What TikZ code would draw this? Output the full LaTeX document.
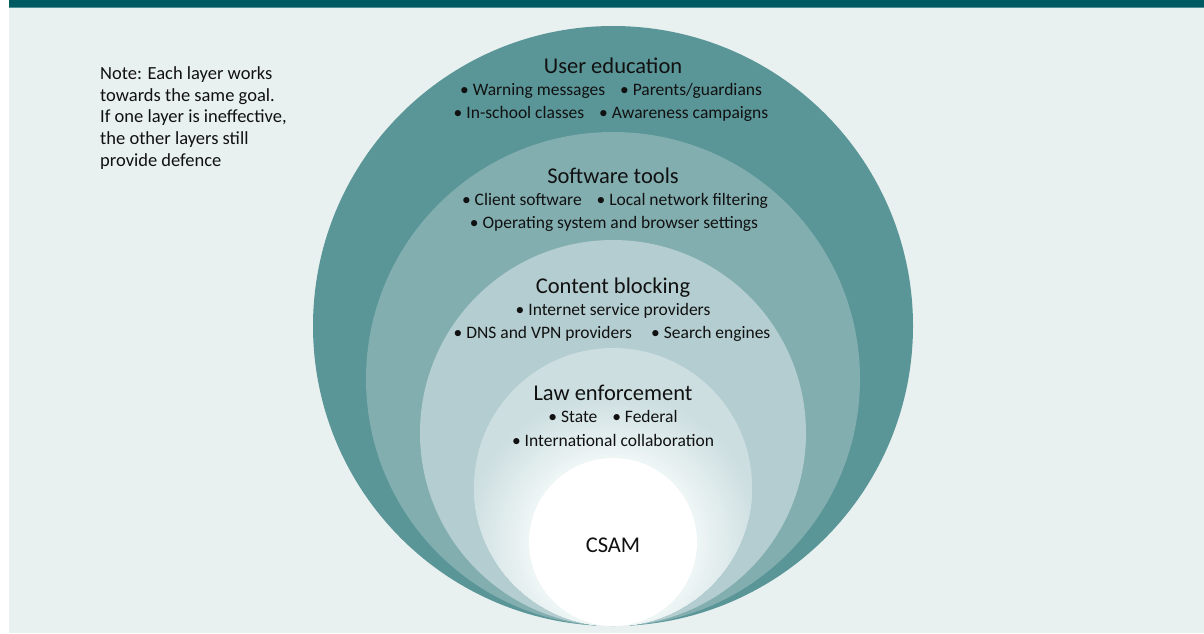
\documentclass[tikz,border=0pt]{standalone}
\usepackage{fontspec}
\setmainfont{Carlito}
\definecolor{barcol}{HTML}{005A62}
\definecolor{barline}{HTML}{4F8E94}
\definecolor{bgcol}{HTML}{E8F1F0}
\definecolor{ringA}{HTML}{5A9597}
\definecolor{ringB}{HTML}{82AEB0}
\definecolor{ringC}{HTML}{B4CDD0}
\definecolor{ringD}{HTML}{CCDEE0}
\definecolor{glowin}{HTML}{EEF5F5}
\definecolor{txt}{HTML}{111111}
\newcommand{\bsep}{\hspace{0.85em}}
\tikzset{
  ring/.style={circle, inner sep=0pt, draw=none},
  head/.style={font=\fontsize{22.5}{26}\selectfont, text=txt, inner sep=0pt, anchor=base},
  bul/.style={font=\fontsize{17.5}{21}\selectfont, text=txt, inner sep=0pt, anchor=base},
  note/.style={font=\fontsize{18.5}{21.7}\selectfont, text=txt, inner sep=0pt, align=left, anchor=north west}
}
\begin{document}
\begin{tikzpicture}[x=1pt,y=-1pt]
\useasboundingbox (0,0) rectangle (1204,633);
\fill[white] (0,0) rectangle (1204,633);
\fill[bgcol] (9,8) rectangle (1204,633);
\fill[barcol] (9,0) rectangle (1204,7);
\fill[barline] (9,7) rectangle (1204,8);
% rings
\node[ring, fill=ringA, minimum size=600pt] (c1) at (613,326) {};
\node[ring, fill=ringB, minimum size=494pt] (c2) at (613,379) {};
\node[ring, fill=ringC, minimum size=386pt] (c3) at (613,433) {};
\node[ring, fill=ringD, minimum size=278pt] (c4) at (613,487) {};
\begin{scope}
  \clip (613,487) circle (139pt);
  \foreach \i in {0,...,40} {
    \pgfmathsetmacro{\rr}{150-\i*1.6}
    \pgfmathsetmacro{\pp}{100-\i*2.5}
    \fill[ringD!\pp!glowin] (613,542) circle (\rr pt);
  }
\end{scope}
\node[ring, fill=white, minimum size=168pt] (c5) at (613,542) {};
% texts
\node[head] (ueh) at (613,73.3) {User education};
\node[bul] (ue1) at (611,95.8) {\textbullet\ Warning messages\bsep \textbullet\ Parents/guardians};
\node[bul] (ue2) at (611,118.3) {\textbullet\ In-school classes\bsep \textbullet\ Awareness campaigns};
\node[head] (sth) at (613,183.3) {Software tools};
\node[bul] (st1) at (615,205.8) {\textbullet\ Client software\bsep \textbullet\ Local network filtering};
\node[bul] (st2) at (614,228.3) {\textbullet\ Operating system and browser settings};
\node[head] (cbh) at (613,293.3) {Content blocking};
\node[bul] (cb1) at (613,315.8) {\textbullet\ Internet service providers};
\node[bul] (cb2) at (612,338.3) {\textbullet\ DNS and VPN providers\hspace{1.1em}\textbullet\ Search engines};
\node[head] (leh) at (613,400.3) {Law enforcement};
\node[bul] (le1) at (613,422.8) {\textbullet\ State\bsep \textbullet\ Federal};
\node[bul] (le2) at (613,446.3) {\textbullet\ International collaboration};
\node[head] (csam) at (613,552.5) {CSAM};
\node[note] (nt) at (100,66.5) {Note: Each layer works\\towards the same goal.\\If one layer is ineffective,\\the other layers still\\provide defence};
\end{tikzpicture}
\end{document}
